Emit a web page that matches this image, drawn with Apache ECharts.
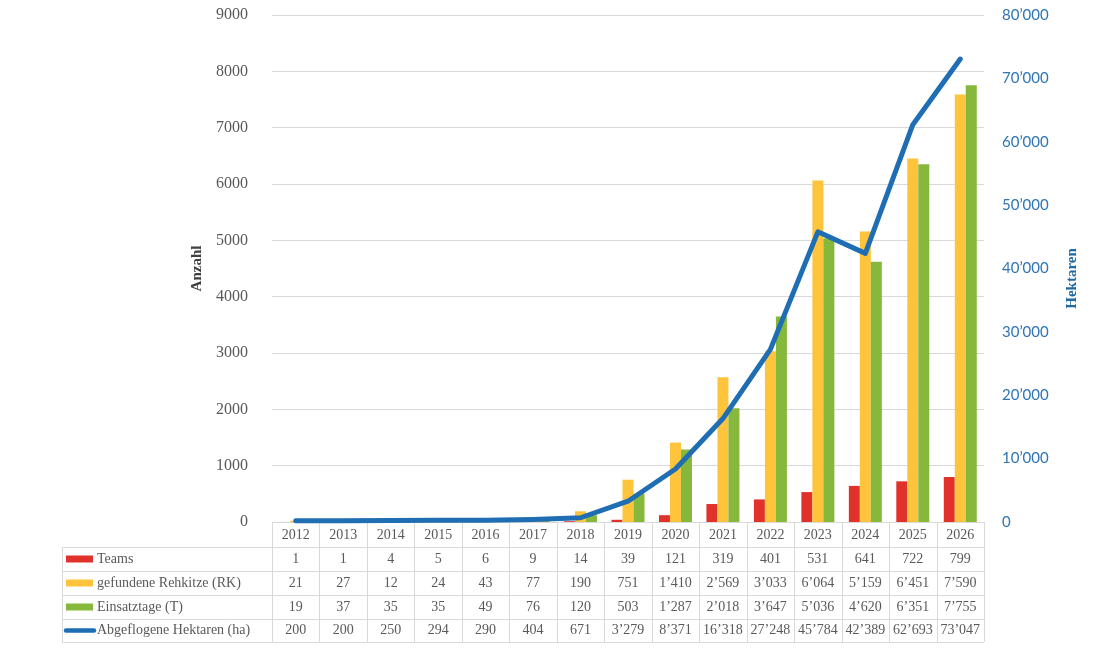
<!DOCTYPE html>
<html>
<head>
<meta charset="utf-8">
<script src="https://cdn.jsdelivr.net/npm/echarts@6/dist/echarts.min.js"></script>
<style>
  html, body { margin: 0; padding: 0; background: #fff; }
  #main { width: 1113px; height: 659px; }
</style>
</head>
<body>
<div id="main"></div>
<script>
// Daten
var years = ['2012', '2013', '2014', '2015', '2016', '2017', '2018', '2019', '2020', '2021', '2022', '2023', '2024', '2025', '2026'];
var teams = [1, 1, 4, 5, 6, 9, 14, 39, 121, 319, 401, 531, 641, 722, 799];
var rehkitze = [21, 27, 12, 24, 43, 77, 190, 751, 1410, 2569, 3033, 6064, 5159, 6451, 7590];
var einsatztage = [19, 37, 35, 35, 49, 76, 120, 503, 1287, 2018, 3647, 5036, 4620, 6351, 7755];
var hektaren = [200, 200, 250, 294, 290, 404, 671, 3279, 8371, 16318, 27248, 45784, 42389, 62693, 73047];
var seriesNames = ['Teams', 'gefundene Rehkitze (RK)', 'Einsatztage (T)', 'Abgeflogene Hektaren (ha)'];
var colors = ['#e0312a', '#fdc43c', '#86b83b', '#1f6db3'];

var serif = '"Liberation Serif", "Times New Roman", serif';
var grey = '#595959';
var lineGrey = '#d9d9d9';

// Tausendertrennzeichen wie im Original
function fmt(n) {
	var s = String(n);
	if (s.length > 3) {
		s = s.slice(0, s.length - 3) + '\u2019' + s.slice(s.length - 3);
	}
	return s;
}

var myChart = echarts.init(document.getElementById('main'));

var option = {
	animation: false,
	grid: { left: 272, right: 129, top: 15, bottom: 137 },
	xAxis: {
		type: 'category',
		data: years,
		axisLine: { lineStyle: { color: lineGrey } },
		axisTick: { show: false },
		axisLabel: { margin: 6, fontFamily: serif, fontSize: 14, color: grey }
	},
	yAxis: [{
		type: 'value',
		min: 0,
		max: 9000,
		interval: 1000,
		name: 'Anzahl',
		nameLocation: 'middle',
		nameRotate: 90,
		nameGap: 65,
		nameTextStyle: { fontFamily: serif, fontSize: 15, fontWeight: 'bold', color: '#404040' },
		axisLine: { show: false },
		axisTick: { show: false },
		axisLabel: { margin: 24, fontFamily: serif, fontSize: 16, color: grey, formatter: function (v) { return String(v); } },
		splitLine: { lineStyle: { color: lineGrey } }
	}, {
		type: 'value',
		min: 0,
		max: 80000,
		interval: 10000,
		name: 'Hektaren',
		nameLocation: 'middle',
		nameRotate: 90,
		nameGap: 81,
		nameTextStyle: { fontFamily: serif, fontSize: 15, fontWeight: 'bold', color: '#1f6aa5', padding: [0, 0, 0, -20] },
		axisLine: { show: false },
		axisTick: { show: false },
		axisLabel: { margin: 18, fontFamily: 'Lato, "Open Sans", sans-serif', fontSize: 15, color: '#2e75b6', formatter: fmt },
		splitLine: { show: false }
	}],
	series: [{
		name: seriesNames[0],
		type: 'bar',
		data: teams,
		barWidth: 11,
		barGap: '0%',
		itemStyle: { color: colors[0] }
	}, {
		name: seriesNames[1],
		type: 'bar',
		data: rehkitze,
		barWidth: 11,
		barGap: '0%',
		itemStyle: { color: colors[1] }
	}, {
		name: seriesNames[2],
		type: 'bar',
		data: einsatztage,
		barWidth: 11,
		barGap: '0%',
		itemStyle: { color: colors[2] }
	}, {
		name: seriesNames[3],
		type: 'line',
		yAxisIndex: 1,
		data: hektaren,
		symbol: 'none',
		z: 5,
		lineStyle: { color: colors[3], width: 5, cap: 'round', join: 'round' }
	}]
};
myChart.setOption(option);

// Datentabelle unter dem Diagramm
var rows = [teams, rehkitze, einsatztage, hektaren];
var c0 = myChart.convertToPixel({ xAxisIndex: 0 }, 0);
var c1 = myChart.convertToPixel({ xAxisIndex: 0 }, 1);
var colW = c1 - c0;
var tabLeft = 62;
var colStart = c0 - colW / 2;
var colEnd = colStart + colW * years.length;
var rowY = [522, 547, 571, 595, 619, 642];
var els = [];
var lineStyle = { stroke: lineGrey, lineWidth: 1 };

for (var r = 1; r < rowY.length; r++) {
	els.push({ type: 'line', shape: { x1: tabLeft, y1: rowY[r] + 0.5, x2: colEnd, y2: rowY[r] + 0.5 }, style: lineStyle });
}
els.push({ type: 'line', shape: { x1: tabLeft + 0.5, y1: rowY[1], x2: tabLeft + 0.5, y2: rowY[5] }, style: lineStyle });
for (var k = 0; k <= years.length; k++) {
	var x = Math.round(colStart + k * colW) + 0.5;
	els.push({ type: 'line', shape: { x1: x, y1: rowY[0], x2: x, y2: rowY[5] }, style: lineStyle });
}

for (var i = 0; i < rows.length; i++) {
	var yc = (rowY[i + 1] + rowY[i + 2]) / 2;
	if (i < 3) {
		els.push({ type: 'rect', shape: { x: 66, y: yc - 3.5, width: 27, height: 7 }, style: { fill: colors[i] } });
	} else {
		els.push({ type: 'line', shape: { x1: 66, y1: yc, x2: 94, y2: yc }, style: { stroke: colors[3], lineWidth: 4.5, lineCap: 'round' } });
	}
	els.push({ type: 'text', x: 97, y: yc, style: { text: seriesNames[i], font: '14px ' + serif, fill: grey, textVerticalAlign: 'middle', verticalAlign: 'middle' } });
	for (var j = 0; j < years.length; j++) {
		var xc = myChart.convertToPixel({ xAxisIndex: 0 }, j);
		els.push({ type: 'text', x: xc, y: yc, style: { text: fmt(rows[i][j]), font: '14px ' + serif, fill: grey, align: 'center', textAlign: 'center', verticalAlign: 'middle', textVerticalAlign: 'middle' } });
	}
}

myChart.setOption({ graphic: { elements: els } });
</script>
</body>
</html>
